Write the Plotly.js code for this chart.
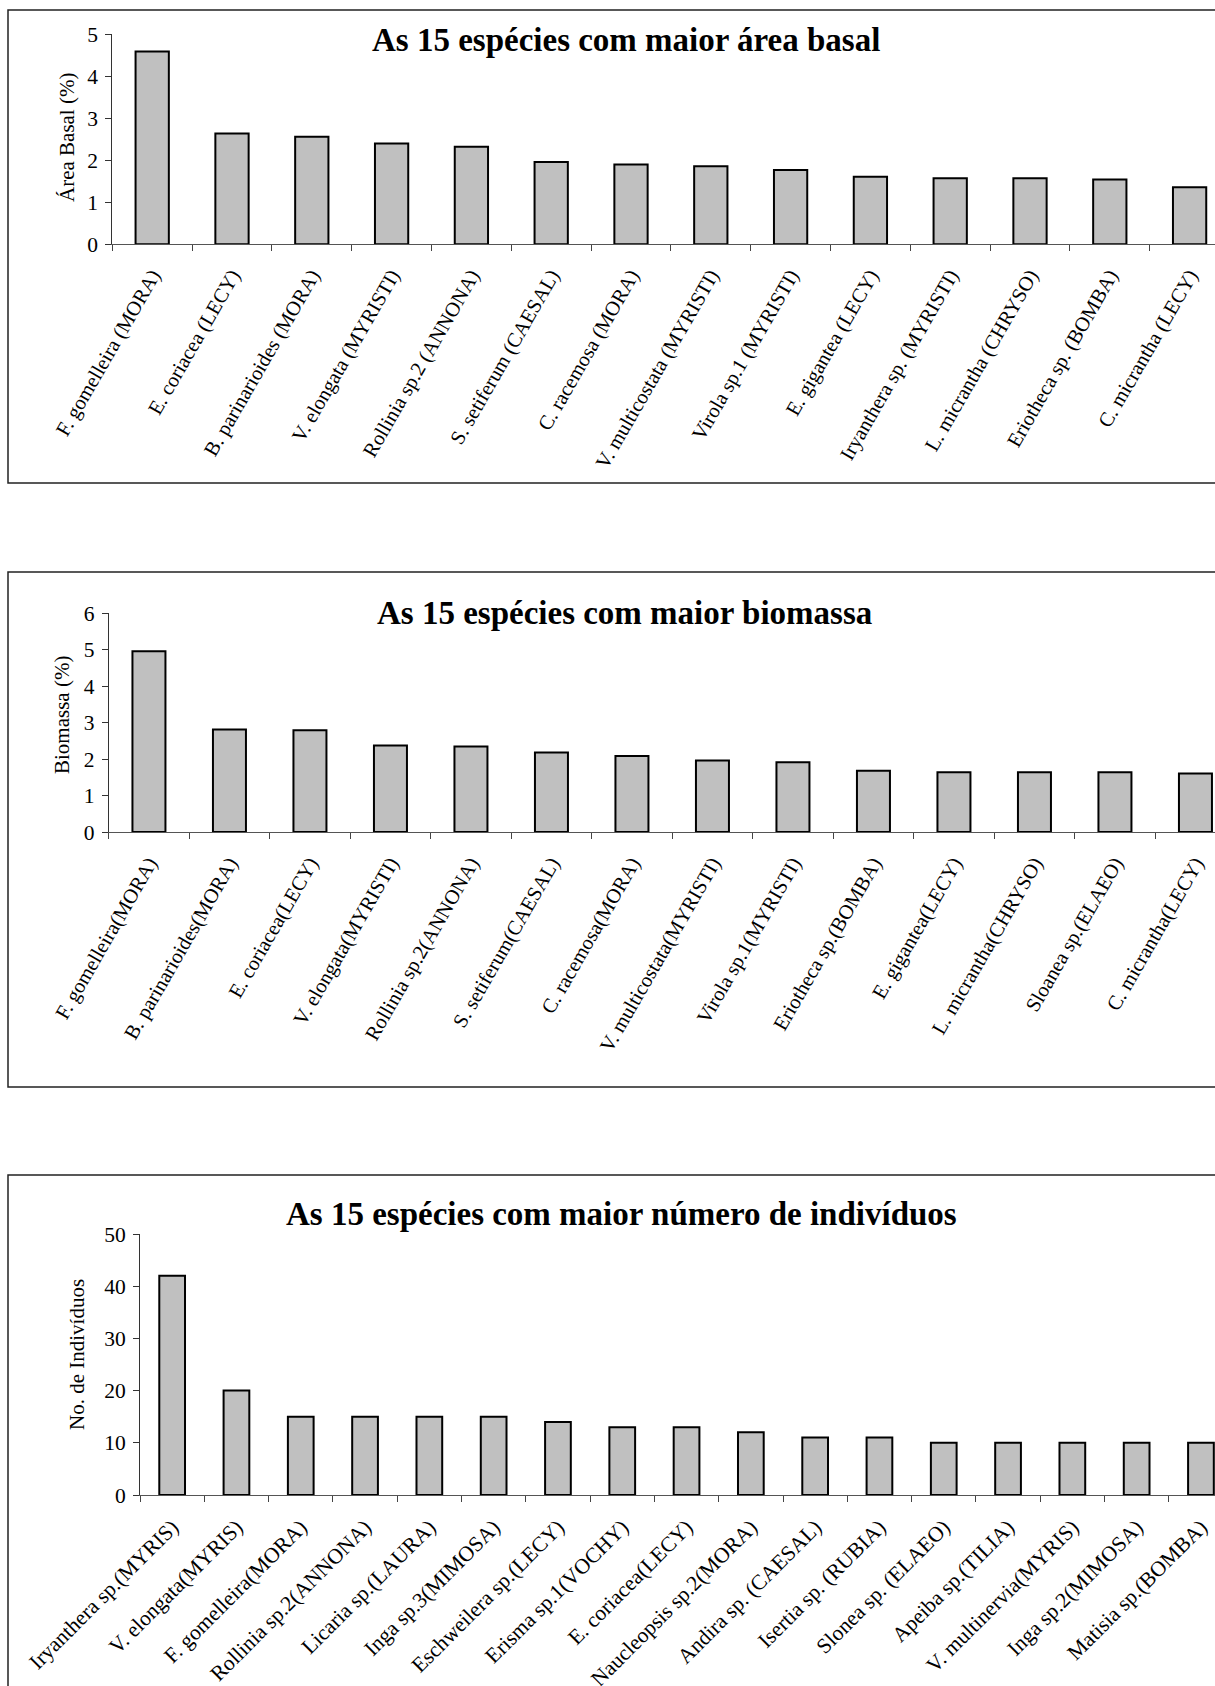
<!DOCTYPE html>
<html>
<head>
<meta charset="utf-8">
<script src="https://cdn.plot.ly/plotly-3.0.1.min.js"></script>
<style>
html,body{margin:0;padding:0;background:#fff;overflow:hidden}
#chart{width:1215px;height:1686px}
</style>
</head>
<body>
<div id="chart"></div>
<script>
// ---------- DATA ----------
const basalSpecies = ["F. gomelleira (MORA)", "E. coriacea (LECY)", "B. parinarioides (MORA)", "V. elongata (MYRISTI)",
  "Rollinia sp.2 (ANNONA)", "S. setiferum (CAESAL)", "C. racemosa (MORA)", "V. multicostata (MYRISTI)",
  "Virola sp.1 (MYRISTI)", "E. gigantea (LECY)", "Iryanthera sp. (MYRISTI)", "L. micrantha (CHRYSO)",
  "Eriotheca sp. (BOMBA)", "C. micrantha (LECY)"];
const basalValues = [4.59, 2.64, 2.56, 2.40, 2.32, 1.96, 1.90, 1.86, 1.77, 1.61, 1.57, 1.57, 1.54, 1.36];

const biomassSpecies = ["F. gomelleira(MORA)", "B. parinarioides(MORA)", "E. coriacea(LECY)", "V. elongata(MYRISTI)",
  "Rollinia sp.2(ANNONA)", "S. setiferum(CAESAL)", "C. racemosa(MORA)", "V. multicostata(MYRISTI)",
  "Virola sp.1(MYRISTI)", "Eriotheca sp.(BOMBA)", "E. gigantea(LECY)", "L. micrantha(CHRYSO)",
  "Sloanea sp.(ELAEO)", "C. micrantha(LECY)"];
const biomassValues = [4.95, 2.81, 2.79, 2.37, 2.34, 2.18, 2.08, 1.96, 1.91, 1.68, 1.64, 1.64, 1.64, 1.60];

const countSpecies = ["Iryanthera sp.(MYRIS)", "V. elongata(MYRIS)", "F. gomelleira(MORA)", "Rollinia sp.2(ANNONA)",
  "Licaria sp.(LAURA)", "Inga sp.3(MIMOSA)", "Eschweilera sp.(LECY)", "Erisma sp.1(VOCHY)", "E. coriacea(LECY)",
  "Naucleopsis sp.2(MORA)", "Andira sp. (CAESAL)", "Isertia sp. (RUBIA)", "Slonea sp. (ELAEO)",
  "Apeiba sp.(TILIA)", "V. multinervia(MYRIS)", "Inga sp.2(MIMOSA)", "Matisia sp.(BOMBA)"];
const countValues = [42, 20, 15, 15, 15, 15, 14, 13, 13, 12, 11, 11, 10, 10, 10, 10, 10];

const titles = ["As 15 espécies com maior área basal", "As 15 espécies com maior biomassa",
  "As 15 espécies com maior número de indivíduos"];
const yTitles = ["Área Basal (%)", "Biomassa (%)", "No. de Indivíduos"];
const yMax = [5, 6, 50];
const yStep = [1, 1, 10];

// ---------- LAYOUT (pixel geometry) ----------
const W = 1215, H = 1686;
const FONT = "Liberation Serif, Times New Roman, serif";
const px = v => v / W;
const py = v => 1 - v / H;

const panels = [
  {cats: basalSpecies, vals: basalValues, axL: 112.3, step: 79.8, top: 34.3, bot: 244.3, angle: -60, lblSize: 20.5, barW: 0.417,
   frameTop: 10, frameBot: 483, titleX: 626, titleY: 40, ytX: 67, ytY: 138},
  {cats: biomassSpecies, vals: biomassValues, axL: 108.7, step: 80.5, top: 613, bot: 832, angle: -60, lblSize: 20.5, barW: 0.41,
   frameTop: 572, frameBot: 1087, titleX: 624, titleY: 613, ytX: 62, ytY: 715},
  {cats: countSpecies, vals: countValues, axL: 140, step: 64.3, top: 1234, bot: 1495, angle: -45, lblSize: 21.5, barW: 0.40,
   frameTop: 1175, frameBot: 1720, titleX: 621, titleY: 1214, ytX: 77, ytY: 1355}
];

const data = [];
const layout = {
  width: W, height: H, margin: {l: 0, r: 0, t: 0, b: 0},
  paper_bgcolor: "#fff", plot_bgcolor: "rgba(0,0,0,0)",
  showlegend: false, font: {family: FONT, color: "#000", size: 20},
  annotations: [], shapes: []
};

panels.forEach((p, i) => {
  const n = i === 0 ? "" : String(i + 1);
  data.push({
    type: "bar", x: p.cats, y: p.vals, xaxis: "x" + n, yaxis: "y" + n,
    width: p.barW, hoverinfo: "skip",
    marker: {color: "#c0c0c0", line: {color: "#000", width: 2}}
  });
  const rangeEnd = -0.5 + (W - p.axL) / p.step;
  layout["xaxis" + n] = {
    domain: [px(p.axL), 1], anchor: "y" + n, type: "category",
    range: [-0.5, rangeEnd], tickmode: "linear", tick0: 0, dtick: 1,
    tickson: "boundaries", ticks: "outside", ticklen: 6, tickwidth: 1, tickcolor: "#444",
    showline: true, linecolor: "#555", linewidth: 1, showgrid: false, zeroline: false,
    tickangle: p.angle, tickfont: {family: FONT, size: p.lblSize, color: "#000"},
    ticklabelstandoff: 10, automargin: false, fixedrange: true
  };
  layout["yaxis" + n] = {
    domain: [py(p.bot), py(p.top)], anchor: "x" + n,
    range: [0, yMax[i]], tickmode: "linear", tick0: 0, dtick: yStep[i],
    ticks: "outside", ticklen: 6, tickwidth: 1, tickcolor: "#333",
    showline: true, linecolor: "#333", linewidth: 1, showgrid: false, zeroline: false,
    tickfont: {family: FONT, size: 21.5, color: "#000"}, ticklabelstandoff: 3,
    automargin: false, fixedrange: true
  };
  layout.shapes.push({
    type: "rect", xref: "paper", yref: "paper", layer: "below",
    x0: px(8), x1: 1.05, y0: py(p.frameBot), y1: py(p.frameTop),
    line: {color: "#222", width: 1.5}, fillcolor: "rgba(0,0,0,0)"
  });
  layout.annotations.push({
    text: "<b>" + titles[i] + "</b>", xref: "paper", yref: "paper",
    x: px(p.titleX), y: py(p.titleY), xanchor: "center", yanchor: "middle",
    showarrow: false, font: {family: FONT, size: 33, color: "#000"}
  });
  layout.annotations.push({
    text: yTitles[i], xref: "paper", yref: "paper", textangle: -90,
    x: px(p.ytX), y: py(p.ytY), xanchor: "center", yanchor: "middle",
    showarrow: false, font: {family: FONT, size: 21, color: "#000"}
  });
});

Plotly.newPlot("chart", data, layout, {staticPlot: true, displayModeBar: false});
</script>
</body>
</html>
